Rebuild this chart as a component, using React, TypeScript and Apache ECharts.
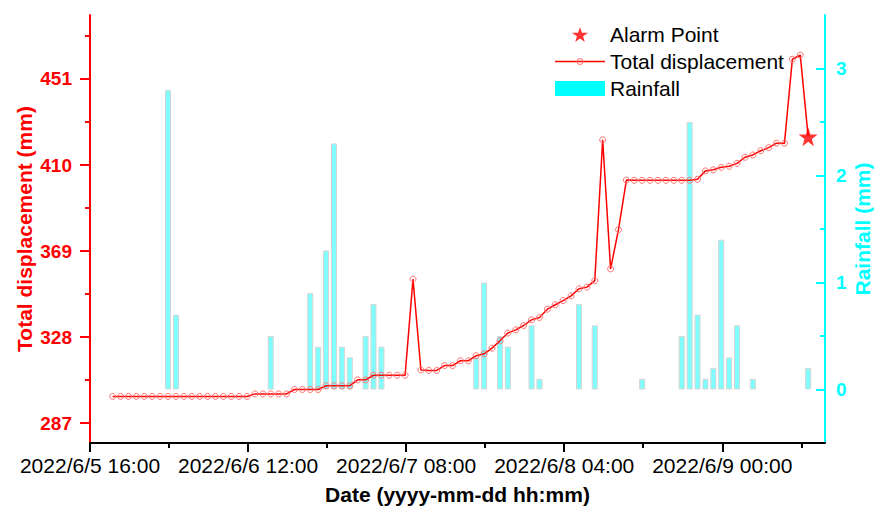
import React, { useEffect, useRef } from 'react';
import * as echarts from 'echarts';

// ---- data ----
// x axis: hours after 2022/6/5 16:00
const xTickHours = [0, 20, 40, 60, 80];
const xTickLabels = ['2022/6/5 16:00', '2022/6/6 12:00', '2022/6/7 08:00', '2022/6/8 04:00', '2022/6/9 00:00'];
const xMinHour = 0;
const xMaxHour = 93;
const firstRecordHour = 2.87; // first hourly record, hours after 2022/6/5 16:00

const dispTicks = [287, 328, 369, 410, 451];
const dispMinorTicks = [307.5, 348.5, 389.5, 430.5, 471.5];
const rainTicks = [0, 1, 2, 3];
const rainMinorTicks = [0.5, 1.5, 2.5];

// hourly total displacement (mm)
const displacement = [
  299.7, 299.7, 299.7, 299.7, 299.7, 299.7, 299.7, 299.7, 299.7, 299.7,
  299.7, 299.7, 299.7, 299.7, 299.7, 299.7, 299.7, 299.7, 300.9, 300.9,
  300.9, 300.9, 300.9, 303.0, 303.0, 303.0, 303.0, 304.8, 304.8, 304.8,
  304.8, 307.6, 307.6, 309.8, 309.8, 309.8, 309.8, 309.8, 355.6, 312.3,
  312.1, 312.1, 314.4, 314.4, 316.7, 316.7, 319.1, 320.0, 322.7, 326.2,
  329.9, 331.4, 333.5, 336.2, 337.3, 341.3, 343.4, 345.4, 347.6, 351.0,
  351.8, 354.9, 422.0, 360.5, 379.2, 402.8, 402.7, 402.7, 402.7, 402.7,
  402.7, 402.7, 402.7, 402.7, 403.2, 407.2, 407.7, 408.9, 409.4, 410.8,
  413.7, 414.8, 416.8, 418.3, 420.4, 420.4, 460.4, 462.4, 423.5,
];

// hourly rainfall (mm)
const rainfall = [
  0, 0, 0, 0, 0, 0, 0, 2.8, 0.7, 0,
  0, 0, 0, 0, 0, 0, 0, 0, 0, 0,
  0.5, 0, 0, 0, 0, 0.9, 0.4, 1.3, 2.3, 0.4,
  0.3, 0, 0.5, 0.8, 0.4, 0, 0, 0, 0, 0,
  0, 0, 0, 0, 0, 0, 0.3, 1.0, 0, 0.5,
  0.4, 0, 0, 0.6, 0.1, 0, 0, 0, 0, 0.8,
  0, 0.6, 0, 0, 0, 0, 0, 0.1, 0, 0,
  0, 0, 0.5, 2.5, 0.7, 0.1, 0.2, 1.4, 0.3, 0.6,
  0, 0.1, 0, 0, 0, 0, 0, 0, 0.2,
];

const alarmIndex = 88;

const FONT = '"Liberation Sans", Arial, Helvetica, sans-serif';
const STAR =
  'path://M50,0 L61.8,35.1 L98.9,35.1 L69,57.3 L79.4,91.9 L50,71 L20.6,91.9 L31,57.3 L1.1,35.1 L38.2,35.1 Z';

const lineIconSvg =
  "<svg xmlns='http://www.w3.org/2000/svg' width='50' height='15' viewBox='0 0 50 15'>" +
  "<line x1='0' y1='7.5' x2='50' y2='7.5' stroke='#FF0000' stroke-width='1.3'/>" +
  "<circle cx='25' cy='7.5' r='3' fill='none' stroke='#FF7070' stroke-width='1'/></svg>";
const LINE_ICON = 'image://data:image/svg+xml;charset=utf-8,' + encodeURIComponent(lineIconSvg);

export default function App() {
  const ref = useRef<HTMLDivElement>(null);

  useEffect(() => {
    if (!ref.current) return;
    const chart = echarts.init(ref.current, null, { renderer: 'svg' });

    const hours = displacement.map((_, i) => firstRecordHour + i);
    const lineData = displacement.map((v, i) =>
      i === alarmIndex ? { value: [hours[i], v], symbol: 'none' } : { value: [hours[i], v] }
    );
    const barData = rainfall.map((r, i) => (r > 0 ? [hours[i], r] : [hours[i], '-']));
    const alarmData = [[hours[alarmIndex], displacement[alarmIndex]]];

    const option: any = {
      animation: false,
      backgroundColor: '#ffffff',
      grid: { left: 90, right: 49, top: 15, bottom: 65, containLabel: false, outerBoundsMode: 'none' },
      legend: {
        orient: 'vertical',
        left: 555,
        top: 24,
        padding: 0,
        itemWidth: 50,
        itemHeight: 15,
        itemGap: 6,
        textStyle: { fontFamily: FONT, fontSize: 21, color: '#000' },
        data: [
          { name: 'Alarm Point', icon: STAR, itemStyle: { color: '#FF0000' } },
          { name: 'Total displacement', icon: LINE_ICON },
          { name: 'Rainfall', icon: 'rect', itemStyle: { color: '#00FFFF', borderWidth: 0 } },
        ],
      },
      xAxis: {
        type: 'value',
        min: xMinHour,
        max: xMaxHour,
        interval: 20,
        name: 'Date (yyyy-mm-dd hh:mm)',
        nameLocation: 'middle',
        nameGap: 41,
        nameMoveOverlap: false,
        nameTextStyle: { fontFamily: FONT, fontSize: 21, fontWeight: 'bold', color: '#000' },
        axisLine: { show: true, onZero: false, lineStyle: { color: '#000', width: 2 } },
        axisTick: { show: true, length: 9, customValues: xTickHours, lineStyle: { color: '#000', width: 2 } },
        minorTick: { show: true, splitNumber: 2, length: 5, lineStyle: { color: '#000', width: 2 } },
        axisLabel: {
          customValues: xTickHours,
          margin: 12,
          fontFamily: FONT,
          fontSize: 21,
          color: '#000',
          formatter: (v: number) => {
            const k = xTickHours.indexOf(Math.round(v));
            return k >= 0 ? xTickLabels[k] : '';
          },
        },
        splitLine: { show: false },
        minorSplitLine: { show: false },
      },
      yAxis: [
        {
          type: 'value',
          position: 'left',
          min: 277.5,
          max: 481.5,
          name: 'Total displacement (mm)',
          nameLocation: 'middle',
          nameGap: 55,
          nameMoveOverlap: false,
          nameTextStyle: { fontFamily: FONT, fontSize: 21, fontWeight: 'bold', color: '#FF0000' },
          axisLine: { show: true, onZero: false, lineStyle: { color: '#FF0000', width: 2 } },
          axisTick: { show: true, length: 10, customValues: dispTicks, lineStyle: { color: '#FF0000', width: 2 } },
          axisLabel: {
            customValues: dispTicks,
            margin: 18,
            fontFamily: FONT,
            fontSize: 19,
            fontWeight: 'bold',
            color: '#FF0000',
          },
          splitLine: { show: false },
        },
        {
          type: 'value',
          position: 'left',
          min: 277.5,
          max: 481.5,
          axisLine: { show: false },
          axisTick: { show: true, length: 5, customValues: dispMinorTicks, lineStyle: { color: '#FF0000', width: 2 } },
          axisLabel: { show: false },
          splitLine: { show: false },
        },
        {
          type: 'value',
          position: 'right',
          min: -0.5,
          max: 3.5,
          name: 'Rainfall (mm)',
          nameLocation: 'middle',
          nameGap: 27,
          nameMoveOverlap: false,
          nameTextStyle: { fontFamily: FONT, fontSize: 21, fontWeight: 'bold', color: '#00FFFF' },
          axisLine: { show: true, onZero: false, lineStyle: { color: '#00FFFF', width: 2 } },
          axisTick: { show: true, inside: true, length: 9, customValues: rainTicks, lineStyle: { color: '#00FFFF', width: 2 } },
          axisLabel: {
            customValues: rainTicks,
            margin: 11,
            fontFamily: FONT,
            fontSize: 19,
            fontWeight: 'bold',
            color: '#00FFFF',
          },
          splitLine: { show: false },
        },
        {
          type: 'value',
          position: 'right',
          min: -0.5,
          max: 3.5,
          axisLine: { show: false },
          axisTick: { show: true, inside: true, length: 5, customValues: rainMinorTicks, lineStyle: { color: '#00FFFF', width: 2 } },
          axisLabel: { show: false },
          splitLine: { show: false },
        },
      ],
      series: [
        {
          name: 'Rainfall',
          type: 'bar',
          xAxisIndex: 0,
          yAxisIndex: 2,
          data: barData,
          barWidth: 6,
          itemStyle: { color: '#80FFFF', borderColor: '#D4D4D4', borderWidth: 1 },
          z: 1,
        },
        {
          name: 'Total displacement',
          type: 'line',
          xAxisIndex: 0,
          yAxisIndex: 0,
          data: lineData,
          symbol: 'circle',
          symbolSize: 6,
          showAllSymbol: true,
          lineStyle: { color: '#FF0000', width: 1.5 },
          itemStyle: { color: 'rgba(0,0,0,0)', borderColor: '#FF7070', borderWidth: 1 },
          z: 3,
        },
        {
          name: 'Alarm Point',
          type: 'scatter',
          xAxisIndex: 0,
          yAxisIndex: 0,
          data: alarmData,
          symbol: STAR,
          symbolSize: 19,
          itemStyle: { color: '#FF0000' },
          z: 5,
        },
      ],
    };

    chart.setOption(option);
    return () => chart.dispose();
  }, []);

  return (
    <div
      ref={ref}
      style={{ position: 'fixed', left: 0, top: 0, width: 874, height: 508, background: '#fff' }}
    />
  );
}
